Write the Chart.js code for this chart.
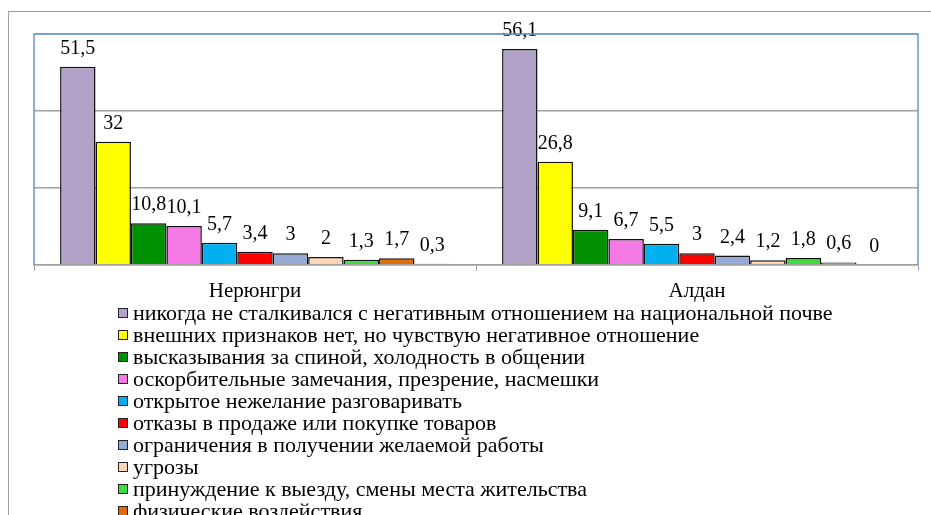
<!DOCTYPE html>
<html>
<head>
<meta charset="utf-8">
<script src="https://cdn.jsdelivr.net/npm/chart.js@4"></script>
<style>
  html, body { margin: 0; padding: 0; background: #fff; overflow: hidden; }
  #wrap { width: 931px; height: 515px; }
</style>
</head>
<body>
<div id="wrap"><canvas id="chart" width="931" height="515"></canvas></div>
<script>
// categories and series
const cities = ['Нерюнгри', 'Алдан'];
const answers = [
  'никогда не сталкивался с негативным отношением на национальной почве',
  'внешних признаков нет, но чувствую негативное отношение',
  'высказывания за спиной, холодность в общении',
  'оскорбительные замечания, презрение, насмешки',
  'открытое нежелание разговаривать',
  'отказы в продаже или покупке товаров',
  'ограничения в получении желаемой работы',
  'угрозы',
  'принуждение к выезду, смены места жительства',
  'физические воздействия',
  'другое'
];
const neryungri = [51.5, 32, 10.8, 10.1, 5.7, 3.4, 3, 2, 1.3, 1.7, 0.3];
const aldan = [56.1, 26.8, 9.1, 6.7, 5.5, 3, 2.4, 1.2, 1.8, 0.6, 0];
const colors = ['#b2a2c7', '#ffff00', '#009100', '#f57ae6', '#00b0f0', '#ff0000',
                '#95abd5', '#fcd5b5', '#3ddc3d', '#e36c0a', '#404040'];

const serif = "'Liberation Serif', 'Times New Roman', serif";

// value labels over the bars, with decimal comma
const valueLabels = {
  id: 'valueLabels',
  afterDatasetsDraw(chart) {
    const ctx = chart.ctx;
    ctx.save();
    ctx.font = '20px ' + serif;
    ctx.fillStyle = '#000';
    ctx.textAlign = 'center';
    ctx.textBaseline = 'alphabetic';
    chart.data.datasets.forEach((ds, i) => {
      chart.getDatasetMeta(i).data.forEach((bar, j) => {
        const txt = String(ds.data[j]).replace('.', ',');
        ctx.fillText(txt, bar.x, bar.y - 13);
      });
    });
    ctx.restore();
  }
};

// frames + one-column legend
const frameAndLegend = {
  id: 'frameAndLegend',
  afterDraw(chart) {
    const ctx = chart.ctx;
    const a = chart.chartArea;
    ctx.save();
    ctx.strokeStyle = '#a0a0a0';
    ctx.lineWidth = 1;
    ctx.strokeRect(8.5, 11.5, 2000, 2000);

    ctx.strokeStyle = '#6a96d0';
    ctx.lineWidth = 1.5;
    ctx.beginPath();
    ctx.moveTo(a.left, a.bottom);
    ctx.lineTo(a.left, a.top);
    ctx.lineTo(a.right, a.top);
    ctx.lineTo(a.right, a.bottom);
    ctx.stroke();

    ctx.font = '22px ' + serif;
    ctx.textBaseline = 'middle';
    ctx.textAlign = 'left';
    chart.data.datasets.forEach((ds, i) => {
      const y = 313 + i * 22;
      ctx.fillStyle = ds.backgroundColor;
      ctx.fillRect(118, y - 5, 10, 10);
      ctx.strokeStyle = '#222';
      ctx.lineWidth = 1;
      ctx.strokeRect(118.5, y - 4.5, 9, 9);
      ctx.fillStyle = '#000';
      ctx.fillText(ds.label, 133, y + 1);
    });
    ctx.restore();
  }
};

new Chart(document.getElementById('chart'), {
  type: 'bar',
  data: {
    labels: cities,
    datasets: answers.map((label, i) => ({
      label: label,
      data: [neryungri[i], aldan[i]],
      backgroundColor: colors[i],
      borderColor: '#111',
      borderWidth: 1.5,
      categoryPercentage: 0.882,
      barPercentage: 1
    }))
  },
  options: {
    responsive: false,
    animation: false,
    layout: { padding: { left: 34, right: 13, top: 34, bottom: 203 } },
    plugins: { legend: { display: false }, tooltip: { enabled: false } },
    scales: {
      x: {
        grid: { display: true, drawOnChartArea: false, drawTicks: true, tickLength: 6, color: '#a0a0a0' },
        border: { display: true, color: '#a0a0a0', width: 1.5 },
        ticks: { color: '#000', font: { family: serif, size: 21 }, padding: 8 }
      },
      y: {
        min: 0,
        max: 60,
        ticks: { display: false, stepSize: 20 },
        grid: { color: '#a0a0a0', lineWidth: 1.5, drawTicks: false },
        border: { display: false }
      }
    }
  },
  plugins: [valueLabels, frameAndLegend]
});
</script>
</body>
</html>
